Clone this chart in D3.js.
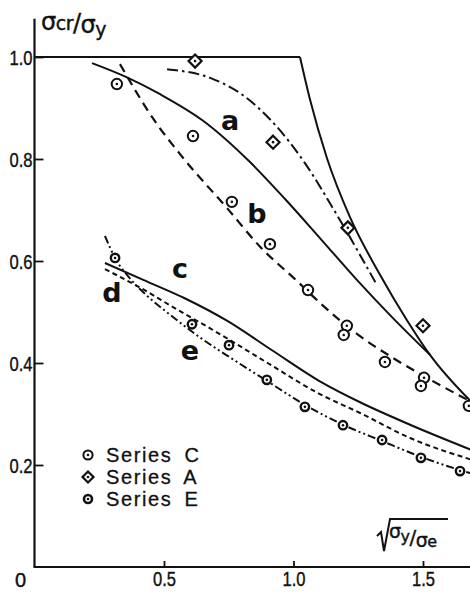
<!DOCTYPE html>
<html><head><meta charset="utf-8">
<script src="https://cdn.jsdelivr.net/npm/d3@7/dist/d3.min.js"></script>
<style>
html,body{margin:0;padding:0;background:#fff;}
svg{display:block;}
</style></head>
<body>
<svg id="chart" width="470" height="592"></svg>
<script>
// ---------- data ----------
const xTicks = [0.5, 1.0, 1.5];
const xTickLabels = ["0.5", "1.0", "1.5"];
const yTicks = [0.2, 0.4, 0.6, 0.8, 1.0];
const yTickLabels = ["0.2", "0.4", "0.6", "0.8", "1.0"];

// upper group curves
const eulerFlat  = [[0, 1.0], [1.025, 1.0]];
const eulerCurve = [[1.025, 1.0], [1.064, 0.916], [1.129, 0.802], [1.218, 0.686], [1.334, 0.573], [1.438, 0.484], [1.527, 0.416], [1.69, 0.322]];
const curveA = [[0.222, 0.988], [0.353, 0.961], [0.485, 0.927], [0.651, 0.875], [0.832, 0.794], [0.97, 0.72], [1.102, 0.645], [1.25, 0.56], [1.384, 0.488], [1.527, 0.416]];
const curveB = [[0.33, 0.986], [0.457, 0.88], [0.574, 0.802], [0.743, 0.704], [0.871, 0.628], [1.013, 0.561], [1.102, 0.518], [1.245, 0.457], [1.384, 0.41], [1.515, 0.371], [1.69, 0.323]];
const curveSeriesA = [[0.512, 0.976], [0.678, 0.959], [0.805, 0.925], [0.929, 0.867], [1.044, 0.792], [1.168, 0.69], [1.322, 0.553]];
// lower group curves
const curveC = [[0.272, 0.596], [0.42, 0.563], [0.58, 0.527], [0.743, 0.483], [0.92, 0.424], [1.102, 0.364], [1.257, 0.323], [1.45, 0.279], [1.69, 0.229]];
const curveD = [[0.272, 0.584], [0.407, 0.548], [0.55, 0.505], [0.678, 0.468], [0.751, 0.446], [0.9, 0.40], [1.102, 0.339], [1.257, 0.302], [1.45, 0.253], [1.69, 0.21]];
const curveE = [[0.272, 0.649], [0.311, 0.606], [0.37, 0.565], [0.434, 0.532], [0.52, 0.496], [0.639, 0.45], [0.77, 0.406], [0.897, 0.365], [1.044, 0.318], [1.191, 0.279], [1.342, 0.247], [1.492, 0.216], [1.643, 0.19], [1.69, 0.183]];

// measured points
const seriesC = [[0.318, 0.947], [0.612, 0.845], [0.762, 0.716], [0.909, 0.633], [1.056, 0.543], [1.206, 0.473], [1.194, 0.455], [1.353, 0.402], [1.504, 0.371], [1.492, 0.355], [1.677, 0.316]];
const seriesA = [[0.62, 0.992], [0.921, 0.833], [1.21, 0.665], [1.50, 0.473]];
const seriesE = [[0.311, 0.606], [0.608, 0.476], [0.751, 0.435], [0.897, 0.367], [1.044, 0.314], [1.191, 0.278], [1.342, 0.249], [1.492, 0.214], [1.643, 0.188]];

const curveLabels = ["a", "b", "c", "d", "e"];
const curveLabelPos = [[0.755, 0.857], [0.859, 0.675], [0.562, 0.567], [0.299, 0.52], [0.6, 0.406]];
const legendNames = ["Series C", "Series A", "Series E"];

// ---------- layout ----------
const svg = d3.select("#chart");
const x = d3.scaleLinear().domain([0, 1.5]).range([34.5, 423]);
const y = d3.scaleLinear().domain([0, 1]).range([567, 57]);
const W = 470;

svg.append("defs").append("clipPath").attr("id", "clip")
  .append("rect").attr("x", 0).attr("y", 0).attr("width", W).attr("height", 592);

const ink = "#111";
const tickFont = "'Liberation Sans',Arial,sans-serif";

// axes lines
svg.append("line").attr("x1", x(0)).attr("x2", x(0)).attr("y1", y(0)).attr("y2", y(1.075))
  .attr("stroke", ink).attr("stroke-width", 2.2);
svg.append("line").attr("x1", x(0) - 1).attr("x2", W).attr("y1", y(0)).attr("y2", y(0))
  .attr("stroke", ink).attr("stroke-width", 2.2);

// y axis ticks
const yAxis = d3.axisLeft(y).tickValues(yTicks).tickFormat((d, i) => yTickLabels[i])
  .tickSizeInner(-9).tickSizeOuter(0).tickPadding(2);
const gy = svg.append("g").attr("transform", `translate(${x(0)},0)`).call(yAxis);
gy.select(".domain").remove();
gy.selectAll(".tick line").attr("stroke", ink).attr("stroke-width", 1.8);
gy.selectAll(".tick text").attr("fill", ink).attr("font-family", tickFont)
  .attr("font-size", 20).attr("dy", "0.36em")
  .attr("textLength", 23).attr("lengthAdjust", "spacingAndGlyphs")
  .attr("stroke", ink).attr("stroke-width", 0.4);

// x axis ticks
const xAxis = d3.axisBottom(x).tickValues(xTicks).tickFormat((d, i) => xTickLabels[i])
  .tickSizeInner(-6).tickSizeOuter(0).tickPadding(5);
const gx = svg.append("g").attr("transform", `translate(0,${y(0)})`).call(xAxis);
gx.select(".domain").remove();
gx.selectAll(".tick line").attr("stroke", ink).attr("stroke-width", 1.8);
gx.selectAll(".tick text").attr("fill", ink).attr("font-family", tickFont).attr("font-size", 20)
  .attr("textLength", 23).attr("lengthAdjust", "spacingAndGlyphs")
  .attr("stroke", ink).attr("stroke-width", 0.4);

// origin label
svg.append("text").attr("x", x(0) - 14).attr("y", y(0) + 20).attr("text-anchor", "middle")
  .attr("font-family", tickFont).attr("font-size", 20).attr("fill", ink)
  .attr("stroke", ink).attr("stroke-width", 0.4).text("0");

// ---------- curves ----------
const line = d3.line().x(d => x(d[0])).y(d => y(d[1])).curve(d3.curveMonotoneX);
const plot = svg.append("g").attr("clip-path", "url(#clip)");
function drawCurve(data, dash, width) {
  plot.append("path").datum(data).attr("d", line).attr("fill", "none")
    .attr("stroke", ink).attr("stroke-width", width || 2)
    .attr("stroke-dasharray", dash || null);
}
drawCurve(eulerFlat, null, 2.2);
drawCurve(eulerCurve, null, 2);
drawCurve(curveA, null, 2);
drawCurve(curveB, "9,6", 2.2);
drawCurve(curveSeriesA, "11,4,2.5,4", 2);
drawCurve(curveC, null, 2);
drawCurve(curveD, "5,3.5", 2);
drawCurve(curveE, "8,3,2,3,2,3", 2);

// ---------- markers ----------
function circleMarker(g, cx, cy, r, sw) {
  g.append("circle").attr("cx", cx).attr("cy", cy).attr("r", r).attr("fill", "#fff")
    .attr("stroke", ink).attr("stroke-width", sw);
  g.append("circle").attr("cx", cx).attr("cy", cy).attr("r", 1.3).attr("fill", ink);
}
function diamondMarker(g, cx, cy, s) {
  g.append("path").attr("d", `M${cx},${cy - s}L${cx + s},${cy}L${cx},${cy + s}L${cx - s},${cy}Z`)
    .attr("fill", "#fff").attr("stroke", ink).attr("stroke-width", 2.2);
  g.append("circle").attr("cx", cx).attr("cy", cy).attr("r", 1.3).attr("fill", ink);
}
const mk = plot.append("g");
seriesC.forEach(d => circleMarker(mk, x(d[0]), y(d[1]), 5.2, 2));
seriesA.forEach(d => diamondMarker(mk, x(d[0]), y(d[1]), 6.5));
seriesE.forEach(d => circleMarker(mk, x(d[0]), y(d[1]), 4.2, 2.4));

// ---------- curve labels ----------
svg.selectAll("text.cl").data(curveLabels).join("text").attr("class", "cl")
  .attr("x", (d, i) => x(curveLabelPos[i][0])).attr("y", (d, i) => y(curveLabelPos[i][1]))
  .attr("text-anchor", "middle").attr("font-family", "'DejaVu Sans',sans-serif")
  .attr("font-weight", "bold").attr("font-size", 27).attr("fill", ink).text(d => d);

// ---------- legend ----------
const legY = [455, 477, 499];
const lg = svg.append("g");
circleMarker(lg, 88, legY[0], 4.6, 2);
diamondMarker(lg, 88, legY[1], 5.5);
circleMarker(lg, 88, legY[2], 4, 2.6);
lg.selectAll("text").data(legendNames).join("text")
  .attr("x", 106).attr("y", (d, i) => legY[i] + 7)
  .attr("font-family", "'Liberation Sans',Arial,sans-serif").attr("font-size", 20)
  .attr("letter-spacing", 1.6).attr("word-spacing", 5).attr("fill", ink)
  .attr("stroke", ink).attr("stroke-width", 0.3).text(d => d);

// ---------- axis titles ----------
const yt = svg.append("text").attr("x", 41).attr("y", 30)
  .attr("font-family", "'DejaVu Sans',sans-serif").attr("fill", ink).attr("letter-spacing", -0.5)
  .attr("stroke", ink).attr("stroke-width", 0.4);
yt.append("tspan").attr("font-size", 24).text("σ");
yt.append("tspan").attr("font-size", 19).text("cr");
yt.append("tspan").attr("font-size", 24).attr("dy", 1).text("/");
yt.append("tspan").attr("font-size", 24).attr("dy", 2).text("σ");
yt.append("tspan").attr("font-size", 19).attr("dy", 3).text("y");

// x title with radical
svg.append("path").attr("d", "M377,536L381,532L384,551L390,519L448,519")
  .attr("fill", "none").attr("stroke", ink).attr("stroke-width", 2).attr("stroke-linejoin", "miter");
const xt = svg.append("text").attr("x", 389).attr("y", 538)
  .attr("font-family", "'DejaVu Sans',sans-serif").attr("fill", ink).attr("letter-spacing", -0.5)
  .attr("stroke", ink).attr("stroke-width", 0.4);
xt.append("tspan").attr("font-size", 19).text("σ");
xt.append("tspan").attr("font-size", 16).attr("dy", 4).text("y");
xt.append("tspan").attr("font-size", 20).attr("dy", 2).text("/");
xt.append("tspan").attr("font-size", 19).attr("dy", 3).text("σ");
xt.append("tspan").attr("font-size", 16).attr("dy", 0).text("e");
</script>
</body></html>
